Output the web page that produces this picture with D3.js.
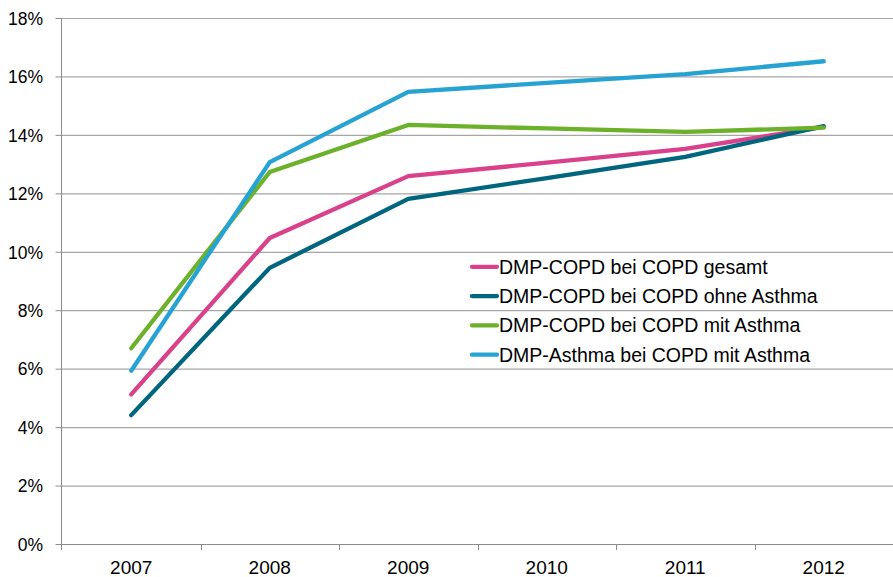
<!DOCTYPE html>
<html>
<head>
<meta charset="utf-8">
<script src="https://cdn.jsdelivr.net/npm/d3@7"></script>
<style>
	body { margin: 0; background: #fff; }
	svg text { font-family: "Liberation Sans", Arial, sans-serif; }
</style>
</head>
<body>
<svg id="chart" width="893" height="577"></svg>
<script>
var years = ["2007", "2008", "2009", "2010", "2011", "2012"];
var yTicks = [0, 2, 4, 6, 8, 10, 12, 14, 16, 18];

var seriesNames = [
	"DMP-COPD bei COPD gesamt",
	"DMP-COPD bei COPD ohne Asthma",
	"DMP-COPD bei COPD mit Asthma",
	"DMP-Asthma bei COPD mit Asthma"
];
var seriesColors = ["#d9428a", "#00667d", "#6cb12a", "#26a3d2"];

var gesamt = [5.12, 10.47, 12.59, 13.05, 13.52, 14.27];
var ohneAsthma = [4.41, 9.45, 11.81, 12.52, 13.25, 14.30];
var mitAsthma = [6.70, 12.73, 14.34, 14.22, 14.10, 14.25];
var dmpAsthma = [5.93, 13.07, 15.47, 15.78, 16.08, 16.52];

var seriesValues = [gesamt, ohneAsthma, mitAsthma, dmpAsthma];

var margin = { left: 62, right: 0, top: 18, bottom: 33 };
var width = 893, height = 577;

var svg = d3.select("#chart");

var x = d3.scaleBand()
	.domain(years)
	.range([margin.left, width - margin.right]);

var y = d3.scaleLinear()
	.domain([0, 18])
	.range([height - margin.bottom, margin.top]);

// gridlines
svg.append("g")
	.selectAll("line")
	.data(yTicks.filter(function(d) { return d > 0; }))
	.enter()
	.append("line")
	.attr("x1", margin.left)
	.attr("x2", width)
	.attr("y1", function(d) { return y(d) + 0.5; })
	.attr("y2", function(d) { return y(d) + 0.5; })
	.style("stroke", "#a6a6a6")
	.style("stroke-width", 1.2);

// y axis
var yAxis = svg.append("g")
	.attr("transform", "translate(" + (margin.left - 0.5) + ",0)")
	.call(d3.axisLeft(y).tickValues(yTicks).tickSize(6).tickPadding(12.5)
		.tickFormat(function(d) { return d + "%"; }));
yAxis.select(".domain").style("stroke", "#8c8c8c").attr("d", "M0," + (y(0) + 6) + "V" + y(18));
yAxis.selectAll(".tick line").style("stroke", "#8c8c8c");
yAxis.selectAll(".tick text")
	.style("font-size", "17.5px")
	.style("fill", "#000")
	.attr("dy", "0.36em");

// x axis
var xAxis = svg.append("g")
	.attr("transform", "translate(0," + (y(0) + 0.5) + ")")
	.call(d3.axisBottom(x).tickSize(0).tickPadding(16.5));
xAxis.select(".domain").style("stroke", "#8c8c8c").attr("d", "M" + (margin.left - 6) + ",0H" + width);
xAxis.selectAll(".tick text")
	.style("font-size", "19px")
	.style("fill", "#000");

// category separators
svg.append("g")
	.selectAll("line")
	.data(years.slice(1))
	.enter()
	.append("line")
	.attr("x1", function(d) { return Math.round(x(d)) + 0.5; })
	.attr("x2", function(d) { return Math.round(x(d)) + 0.5; })
	.attr("y1", y(0))
	.attr("y2", y(0) + 6)
	.style("stroke", "#8c8c8c");

// lines
var line = d3.line()
	.x(function(d, i) { return x(years[i]) + x.bandwidth() / 2; })
	.y(function(d) { return y(d); });

svg.append("g")
	.selectAll("path")
	.data(seriesValues)
	.enter()
	.append("path")
	.attr("d", line)
	.style("fill", "none")
	.style("stroke", function(d, i) { return seriesColors[i]; })
	.style("stroke-width", 4.3)
	.style("stroke-linecap", "round")
	.style("stroke-linejoin", "round");

// legend
var legend = svg.append("g")
	.attr("transform", "translate(470,266.8)");

var legendItem = legend.selectAll(".item")
	.data(seriesNames)
	.enter()
	.append("g")
	.attr("class", "item")
	.attr("transform", function(d, i) { return "translate(0," + i * 29.3 + ")"; });

legendItem.append("line")
	.attr("x1", 2)
	.attr("x2", 27)
	.attr("y1", 0)
	.attr("y2", 0)
	.style("stroke", function(d, i) { return seriesColors[i]; })
	.style("stroke-width", 4.3)
	.style("stroke-linecap", "round");

legendItem.append("text")
	.attr("x", 29)
	.attr("y", 0)
	.attr("dy", "0.36em")
	.style("font-size", "19.5px")
	.style("fill", "#000")
	.text(function(d) { return d; });
</script>
</body>
</html>
